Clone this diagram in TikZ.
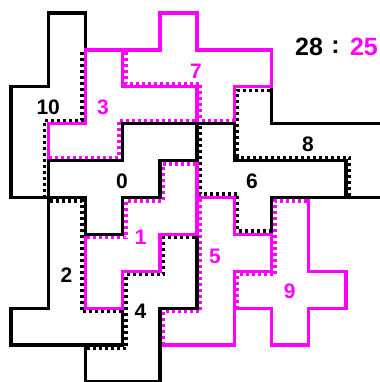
\documentclass[tikz,border=0pt]{standalone}
\usepackage{fontspec}
\setmainfont{Liberation Sans}
\definecolor{pk}{RGB}{255,0,255}
\begin{document}
\begin{tikzpicture}[x=37.2pt,y=-36.9pt,
  solidk/.style={draw=black,line width=3.4pt,line join=miter},
  solidp/.style={draw=pk,line width=3.4pt,line join=miter},
  dotk/.style={draw=black,line width=3.3pt,dash pattern=on 3pt off 3pt},
  dotp/.style={draw=pk,line width=3.3pt,dash pattern=on 3pt off 3pt},
  lab/.style={font=\fontsize{21}{21}\selectfont\bfseries,inner sep=0pt},
  score/.style={font=\fontsize{25}{25}\selectfont\bfseries,inner sep=0pt}]
\useasboundingbox (-0.2957,-0.3523) rectangle (9.8925,10.0);
% solid outlines, highest piece first
\draw[solidk] (1,0) -- (2,0) -- (2,3) -- (1,3) -- (1,5) -- (0,5) -- (0,2) -- (1,2) -- cycle; % 10
\draw[solidp] (7,5) -- (8,5) -- (8,7) -- (9,7) -- (9,8) -- (8,8) -- (8,9) -- (7,9) -- (7,8) -- (6,8) -- (6,7) -- (7,7) -- cycle; % 9
\draw[solidk] (6,2) -- (7,2) -- (7,3) -- (10,3) -- (10,5) -- (9,5) -- (9,4) -- (6,4) -- cycle; % 8
\draw[solidp] (4,0) -- (5,0) -- (5,1) -- (7,1) -- (7,2) -- (6,2) -- (6,3) -- (5,3) -- (5,2) -- (3,2) -- (3,1) -- (4,1) -- cycle; % 7
\draw[solidk] (5,3) -- (6,3) -- (6,4) -- (9,4) -- (9,5) -- (7,5) -- (7,6) -- (6,6) -- (6,5) -- (5,5) -- cycle; % 6
\draw[solidp] (5,5) -- (6,5) -- (6,6) -- (7,6) -- (7,7) -- (6,7) -- (6,9) -- (4,9) -- (4,8) -- (5,8) -- cycle; % 5
\draw[solidk] (4,6) -- (5,6) -- (5,8) -- (4,8) -- (4,10) -- (2,10) -- (2,9) -- (3,9) -- (3,7) -- (4,7) -- cycle; % 4
\draw[solidp] (2,1) -- (3,1) -- (3,2) -- (5,2) -- (5,3) -- (3,3) -- (3,4) -- (1,4) -- (1,3) -- (2,3) -- cycle; % 3
\draw[solidk] (1,5) -- (2,5) -- (2,8) -- (3,8) -- (3,9) -- (0,9) -- (0,8) -- (1,8) -- cycle; % 2
\draw[solidp] (4,4) -- (5,4) -- (5,6) -- (4,6) -- (4,7) -- (3,7) -- (3,8) -- (2,8) -- (2,6) -- (3,6) -- (3,5) -- (4,5) -- cycle; % 1
\draw[solidk] (3,3) -- (5,3) -- (5,4) -- (4,4) -- (4,5) -- (3,5) -- (3,6) -- (2,6) -- (2,5) -- (1,5) -- (1,4) -- (3,4) -- cycle; % 0
% dotted inner borders
\draw[dotk] (1.907,1.05) -- (1.907,2.907) -- (0.907,2.907) -- (0.907,4.95); % 10
\draw[dotp] (4.95,2.907) -- (2.907,2.907) -- (2.907,3.907) -- (1.05,3.907); % 3
\draw[dotp] (3.093,1.05) -- (3.093,1.907) -- (5.093,1.907) -- (5.093,2.907) -- (5.95,2.907); % 7
\draw[dotp] (2.05,6.093) -- (3.093,6.093) -- (3.093,5.093) -- (4.093,5.093) -- (4.093,4.093) -- (4.95,4.093); % 1
\draw[dotk] (1.05,5.093) -- (1.907,5.093) -- (1.907,8.093) -- (2.95,8.093); % 2
\draw[dotk] (4.95,6.093) -- (4.093,6.093) -- (4.093,7.093) -- (3.093,7.093) -- (3.093,9.093) -- (2.05,9.093); % 4
\draw[dotp] (5.093,5.05) -- (5.093,8.093) -- (4.093,8.093) -- (4.093,8.95); % 5
\draw[dotk] (5.093,3.05) -- (5.093,4.907) -- (6.093,4.907) -- (6.093,5.907) -- (6.95,5.907); % 6
\draw[dotk] (6.95,2.093) -- (6.093,2.093) -- (6.093,3.907) -- (9.093,3.907) -- (9.093,4.95); % 8
\draw[dotp] (7.95,5.093) -- (7.093,5.093) -- (7.093,7.093) -- (6.093,7.093) -- (6.093,7.95); % 9
% labels
\node[lab,text=black] (l10) at (1.0,2.56) {10};
\node[lab,text=pk] (l3) at (2.47,2.56) {3};
\node[lab,text=pk] (l7) at (4.97,1.585) {7};
\node[lab,text=black] (l0) at (2.98,4.57) {0};
\node[lab,text=black] (l8) at (7.98,3.55) {8};
\node[lab,text=black] (l6) at (6.48,4.55) {6};
\node[lab,text=pk] (l1) at (3.49,6.07) {1};
\node[lab,text=black] (l2) at (1.49,7.10) {2};
\node[lab,text=pk] (l5) at (5.48,6.59) {5};
\node[lab,text=black] (l4) at (3.48,8.08) {4};
\node[lab,text=pk] (l9) at (7.49,7.55) {9};
\node[score,text=black] (s1) at (8.011,0.922) {28};
\node[score,text=black] (sc) at (8.723,0.922) {:};
\node[score,text=pk] (s2) at (9.489,0.922) {25};
\end{tikzpicture}
\end{document}
